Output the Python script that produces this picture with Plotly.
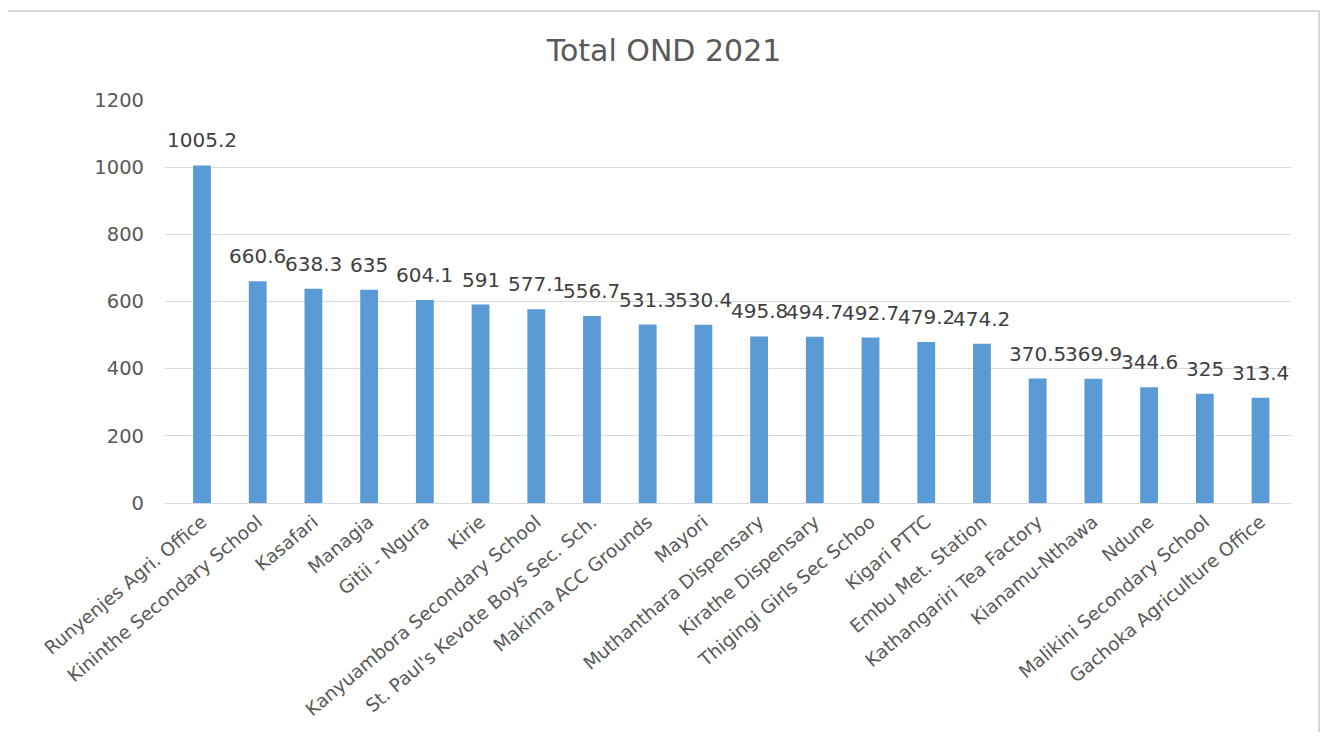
import plotly.graph_objects as go

stations = ["Runyenjes Agri. Office", "Kininthe Secondary School", "Kasafari", "Managia",
            "Gitii - Ngura", "Kirie", "Kanyuambora Secondary School",
            "St. Paul's Kevote Boys Sec. Sch.", "Makima ACC Grounds", "Mayori",
            "Muthanthara Dispensary", "Kirathe Dispensary", "Thigingi Girls Sec Schoo",
            "Kigari PTTC", "Embu Met. Station", "Kathangariri Tea Factory",
            "Kianamu-Nthawa", "Ndune", "Malikini Secondary School",
            "Gachoka Agriculture Office"]
totals = [1005.2, 660.6, 638.3, 635, 604.1, 591, 577.1, 556.7, 531.3, 530.4,
          495.8, 494.7, 492.7, 479.2, 474.2, 370.5, 369.9, 344.6, 325, 313.4]
y_ticks = [0, 200, 400, 600, 800, 1000, 1200]

FONT = "DejaVu Sans"

fig = go.Figure(go.Bar(
    x=stations, y=totals,
    marker=dict(color="#5B9BD5", line=dict(width=0)),
    hoverinfo="x+y",
))

for s, v in zip(stations, totals):
    fig.add_annotation(x=s, y=v, text=f"{v:g}", showarrow=False,
                       yanchor="bottom", yshift=11,
                       font=dict(size=20, color="#404040", family=FONT))

W, H = 1312, 724
fig.update_layout(
    width=W, height=H,
    margin=dict(l=157, r=29, t=92, b=229),
    paper_bgcolor="white", plot_bgcolor="white",
    bargap=0.68,
    showlegend=False,
    title=dict(text="Total OND 2021", x=0.5, xanchor="center", xref="container",
               y=1 - 42 / H, yanchor="middle",
               font=dict(size=30, color="#595959", family=FONT)),
    font=dict(family=FONT, color="#595959"),
    xaxis=dict(tickangle=-40, tickfont=dict(size=18.5, color="#595959", family=FONT),
               showgrid=False, showline=True, linecolor="#D9D9D9", linewidth=1,
               ticks=""),
    yaxis=dict(range=[0, 1200], tickvals=y_ticks, showgrid=True, gridcolor="#D9D9D9",
               gridwidth=1, zeroline=False, showline=False,
               tickfont=dict(size=19.5, color="#595959", family=FONT),
               ticklabelstandoff=20),
    shapes=[dict(type="rect", xref="paper", yref="paper",
                 x0=-0.1403, x1=1.0249, y0=-0.62, y1=1.2208,
                 line=dict(color="#D9D9D9", width=2), fillcolor="rgba(0,0,0,0)",
                 layer="below")],
)

fig.write_html("out.html")
